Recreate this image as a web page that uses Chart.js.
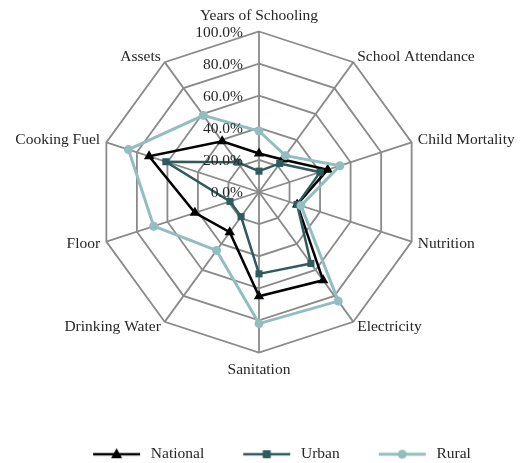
<!DOCTYPE html>
<html><head><meta charset="utf-8">
<script src="https://cdn.jsdelivr.net/npm/chart.js@4.4.1/dist/chart.umd.min.js"></script>
<style>html,body{margin:0;padding:0;background:#fff;}#wrap{width:521px;height:463px;}</style>
</head><body><div id="wrap"><canvas id="c" width="521" height="463"></canvas></div>
<script>
const categories = ['Years of Schooling','School Attendance','Child Mortality','Nutrition','Electricity','Sanitation','Drinking Water','Floor','Cooking Fuel','Assets'];
const national = [24, 25, 45, 25, 68, 65, 31, 42, 72, 39];
const urban    = [13, 22, 40, 25, 55, 51, 19, 19, 61, 23];
const rural    = [38, 28, 53, 27.5, 84, 82, 45, 69, 85.5, 59];
const tickValues = [0, 20, 40, 60, 80, 100];
const tickLabels = ['0.0%', '20.0%', '40.0%', '60.0%', '80.0%', '100.0%'];
const seriesNames = ['National', 'Urban', 'Rural'];

const FONT = '"Liberation Serif", "Times New Roman", serif';
const FS = 15.5;
const TEXT = '#262626';
const GRID = '#8a8a8a';
const COLORS = ['#000000', '#2f5b5d', '#92bec0'];
const CX = 259, CY = 192, RADIUS = 160.5;

class FixedRadialScale extends Chart.RadialLinearScale {
  setCenterPoint() { this.xCenter = CX; this.yCenter = CY; this.drawingArea = RADIUS; }
}
FixedRadialScale.id = 'fixedRadial';
Chart.register(FixedRadialScale);

function legendImg(color, lw, shape) {
  const c = document.createElement('canvas');
  c.width = 79; c.height = 14;
  const g = c.getContext('2d');
  g.strokeStyle = color; g.fillStyle = color; g.lineWidth = lw;
  g.beginPath(); g.moveTo(29, 7); g.lineTo(76, 7); g.stroke();
  const mx = 52.5, my = 7;
  g.beginPath();
  if (shape === 'triangle') { g.moveTo(mx, my - 6); g.lineTo(mx + 5.5, my + 4); g.lineTo(mx - 5.5, my + 4); g.closePath(); }
  else if (shape === 'rect') { g.rect(mx - 4, my - 4, 8, 8); }
  else { g.arc(mx, my, 4.5, 0, Math.PI * 2); }
  g.fill();
  return c;
}
const legendImgs = [legendImg(COLORS[0], 2.5, 'triangle'), legendImg(COLORS[1], 2.5, 'rect'), legendImg(COLORS[2], 3, 'circle')];

const labelPlugin = {
  id: 'excelLabels',
  afterDraw(chart) {
    const s = chart.scales.r, ctx = chart.ctx;
    ctx.save();
    ctx.font = FS + 'px ' + FONT;
    ctx.fillStyle = TEXT;
    ctx.textAlign = 'right'; ctx.textBaseline = 'middle';
    tickValues.forEach((v, i) => {
      const d = s.getDistanceFromCenterForValue(v);
      ctx.fillText(tickLabels[i], s.xCenter - 16, s.yCenter - d + 1);
    });
    const n = chart.data.labels.length;
    chart.data.labels.forEach((lab, i) => {
      const ang = i * 360 / n;
      if (ang === 0) {
        const p = s.getPointPosition(i, s.drawingArea);
        ctx.textAlign = 'center'; ctx.fillText(lab, p.x, p.y - 16);
      } else if (ang === 180) {
        const p = s.getPointPosition(i, s.drawingArea);
        ctx.textAlign = 'center'; ctx.fillText(lab, p.x, p.y + 17.5);
      } else {
        const p = s.getPointPosition(i, s.drawingArea + 6.5);
        ctx.textAlign = ang < 180 ? 'left' : 'right';
        ctx.fillText(lab, p.x, p.y);
      }
    });
    ctx.restore();
  }
};

new Chart(document.getElementById('c'), {
  type: 'radar',
  data: {
    labels: categories,
    datasets: [
      { label: seriesNames[0], data: national, borderColor: COLORS[0], backgroundColor: COLORS[0], borderWidth: 2.5, pointStyle: 'triangle', pointRadius: 6, pointBorderWidth: 0, pointBackgroundColor: COLORS[0], fill: false, order: 3 },
      { label: seriesNames[1], data: urban, borderColor: COLORS[1], backgroundColor: COLORS[1], borderWidth: 2.5, pointStyle: 'rect', pointRadius: 5, pointBorderWidth: 0, pointBackgroundColor: COLORS[1], fill: false, order: 2 },
      { label: seriesNames[2], data: rural, borderColor: COLORS[2], backgroundColor: COLORS[2], borderWidth: 3, pointStyle: 'circle', pointRadius: 4.5, pointBorderWidth: 0, pointBackgroundColor: COLORS[2], fill: false, order: 1 }
    ]
  },
  options: {
    responsive: false,
    animation: false,
    layout: { padding: { left: 14, right: 0, top: 0, bottom: -9 } },
    elements: { line: { tension: 0, borderJoinStyle: 'miter' } },
    scales: {
      r: {
        type: 'fixedRadial',
        min: 0, max: 100,
        ticks: { stepSize: 20, display: false, callback: (v, i) => tickLabels[i] },
        grid: { color: GRID, lineWidth: 1.8, circular: false },
        angleLines: { color: GRID, lineWidth: 1.8 },
        pointLabels: { display: false }
      }
    },
    plugins: {
      tooltip: { enabled: false },
      legend: {
        position: 'bottom',
        labels: {
          usePointStyle: true,
          pointStyleWidth: 79,
          padding: 10,
          color: TEXT,
          font: { family: FONT, size: FS },
          generateLabels(chart) {
            const items = Chart.defaults.plugins.legend.labels.generateLabels(chart);
            items.sort((a, b) => a.datasetIndex - b.datasetIndex);
            items.forEach(it => { it.pointStyle = legendImgs[it.datasetIndex]; it.rotation = 0; });
            return items;
          }
        }
      }
    }
  },
  plugins: [labelPlugin]
});
</script></body></html>
